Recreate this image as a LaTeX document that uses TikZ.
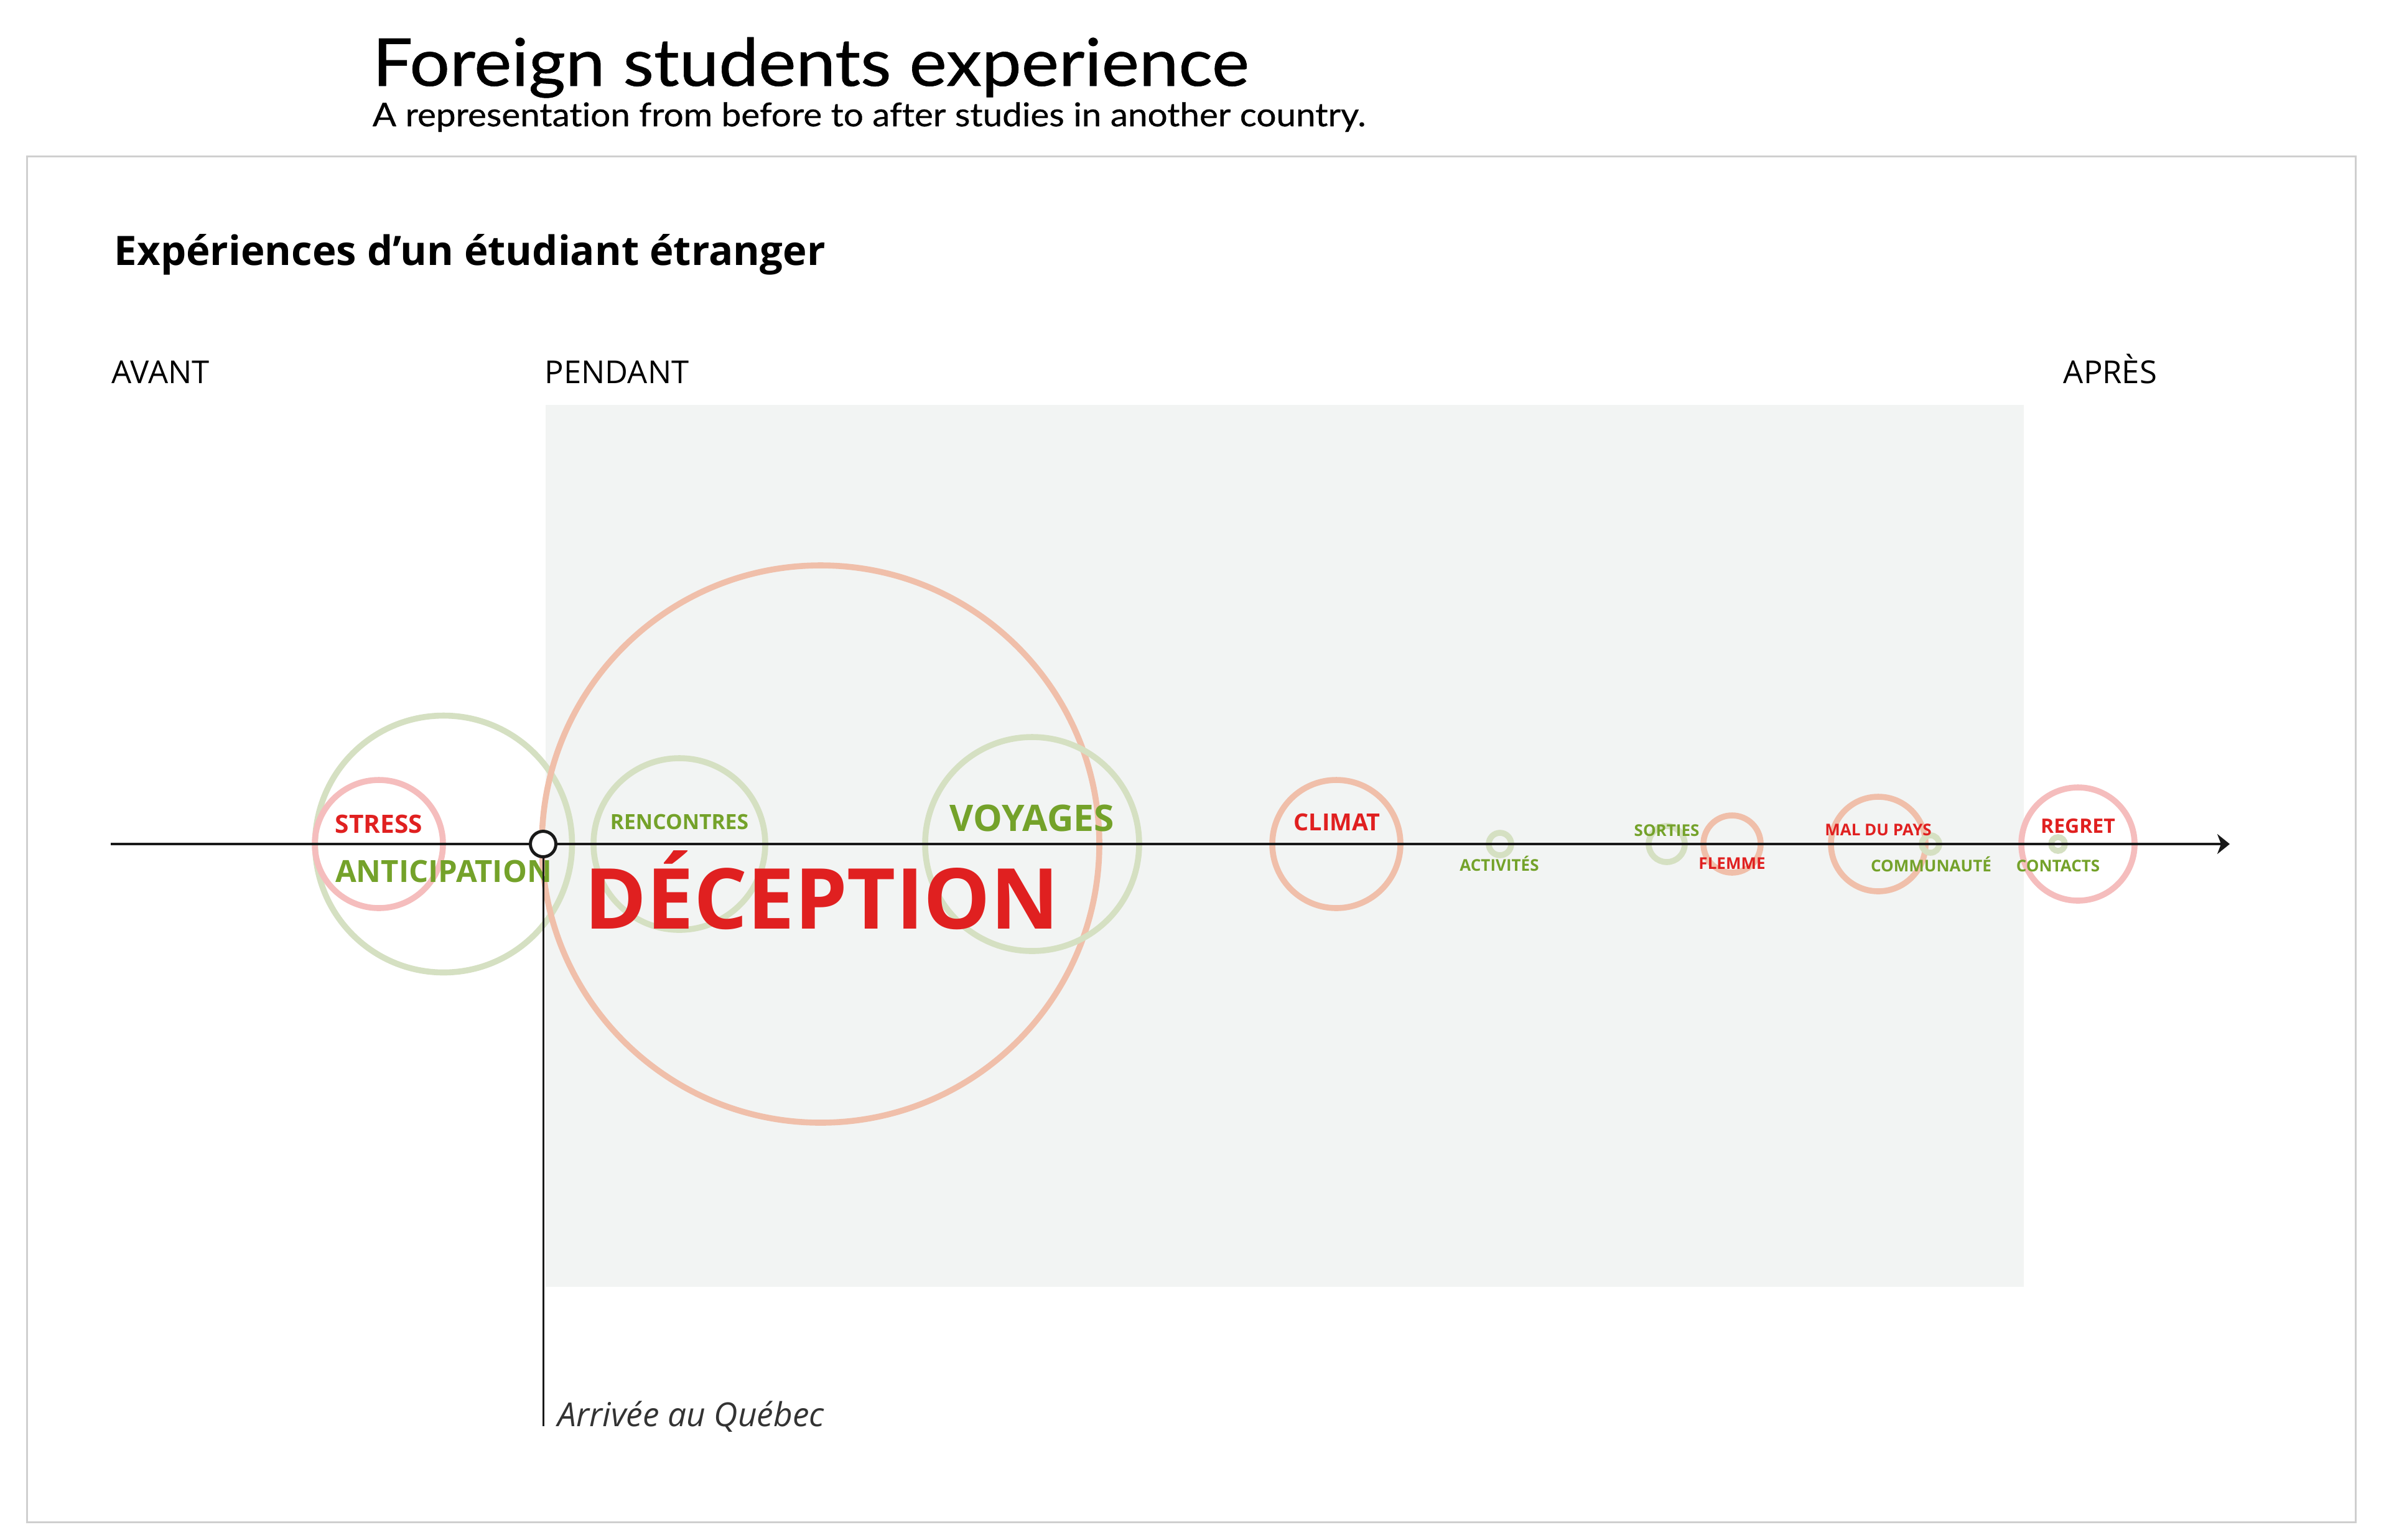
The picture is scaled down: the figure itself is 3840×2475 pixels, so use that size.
\documentclass[tikz,border=0pt]{standalone}
\usepackage{fontspec}
\setmainfont{Open Sans}
\newfontfamily\latofont[Ligatures=NoCommon, FakeStretch=1.075, FakeBold=0.6]{Lato}
\usetikzlibrary{arrows.meta}
\definecolor{palegreen}{HTML}{D5E0C2}
\definecolor{palepink}{HTML}{F5BDBD}
\definecolor{paleorange}{HTML}{F0BFAA}
\definecolor{txtred}{HTML}{E02020}
\definecolor{txtgreen}{HTML}{74A22A}
\definecolor{panelgray}{HTML}{F2F4F3}
\definecolor{framegray}{HTML}{CFCFCF}
\newcommand\setfs[1]{\fontsize{#1}{#1}\selectfont}
\begin{document}
\begin{tikzpicture}[x=0.25pt,y=-0.25pt,
  bub/.style={circle, draw=#1, line width=2.4pt, inner sep=0pt, outer sep=0pt},
  lbl/.style={anchor=base, inner sep=0pt, font=\bfseries},
  phase/.style={anchor=base west, inner sep=0pt, font=\setfs{12.7pt}},
  red/.style={text=txtred},
  grn/.style={text=txtgreen}]
\useasboundingbox[fill=white] (0,0) rectangle (3840,2475);
% frame and panel
\draw[framegray, line width=0.75pt] (43,251) rectangle (3786,2447);
\fill[panelgray] (877,651) rectangle (3253,2069);
% titles
\node[anchor=base west, inner sep=0pt, font=\latofont\setfs{26.5pt}] (title) at (598,138) {Foreign students experience};
\node[anchor=base west, inner sep=0pt, font=\latofont\setfs{13.15pt}] (subtitle) at (598,203) {A representation from before to after studies in another country.};
\node[anchor=base west, inner sep=0pt, font=\bfseries\setfs{16.3pt}] (heading) at (183,426) {Expériences d’un étudiant étranger};
\node[phase] (avant) at (179,616) {AVANT};
\node[phase] (pendant) at (875,616) {PENDANT};
\node[phase] (apres) at (3316,616) {APRÈS};
% bubbles
\node[bub=palegreen, minimum size=103.25pt] (cAnticipation) at (713,1357) {};
\node[bub=palepink, minimum size=51.5pt] (cStress) at (609,1357) {};
\node[bub=paleorange, minimum size=224pt] (cDeception) at (1319,1357) {};
\node[bub=palegreen, minimum size=69pt] (cRencontres) at (1092,1357) {};
\node[bub=palegreen, minimum size=86pt] (cVoyages) at (1659,1357) {};
\node[bub=paleorange, minimum size=51.5pt] (cClimat) at (2148,1357) {};
\node[bub=palegreen, minimum size=9pt] (cActivites) at (2411,1357) {};
\node[bub=palegreen, minimum size=14.5pt] (cSorties) at (2679,1357) {};
\node[bub=paleorange, minimum size=23pt] (cFlemme) at (2784,1357) {};
\node[bub=paleorange, minimum size=38pt] (cMal) at (3019,1357) {};
\node[bub=palegreen, minimum size=7pt] (cCommunaute) at (3103,1357) {};
\node[bub=palepink, minimum size=45.5pt] (cRegret) at (3340,1357) {};
\node[bub=palegreen, minimum size=5.5pt] (cContacts) at (3308,1357) {};
% axis
\coordinate (axStart) at (178,1357);
\coordinate (axEnd) at (3584,1357);
\coordinate (arrBottom) at (873,2293);
\draw[black!90, line width=1pt, -{Stealth[length=5pt, width=8pt, inset=1.5pt]}] (axStart) -- (axEnd);
% labels
\node[lbl, red, font=\bfseries\setfs{10.15pt}] (tStress) at (609,1339) {STRESS};
\node[lbl, grn, font=\bfseries\setfs{12.25pt}] (tAnticipation) at (713,1418) {ANTICIPATION};
\node[lbl, grn, font=\bfseries\setfs{8.4pt}] (tRencontres) at (1092,1333) {RENCONTRES};
\node[lbl, red, font=\bfseries\setfs{33.8pt}] (tDeception) at (1321,1493) {DÉCEPTION};
\node[lbl, grn, font=\bfseries\setfs{14.7pt}] (tVoyages) at (1659,1336) {VOYAGES};
\node[lbl, red, font=\bfseries\setfs{9.45pt}] (tClimat) at (2149,1335) {CLIMAT};
\node[lbl, grn, font=\bfseries\setfs{6.5pt}] (tActivites) at (2410,1400) {ACTIVITÉS};
\node[lbl, grn, font=\bfseries\setfs{6.5pt}] (tSorties) at (2679,1344) {SORTIES};
\node[lbl, red, font=\bfseries\setfs{6.5pt}] (tFlemme) at (2784,1397) {FLEMME};
\node[lbl, red, font=\bfseries\setfs{6.5pt}] (tMal) at (3019,1343) {MAL DU PAYS};
\node[lbl, grn, font=\bfseries\setfs{6.5pt}] (tCommunaute) at (3104,1401) {COMMUNAUTÉ};
\node[lbl, red, font=\bfseries\setfs{8pt}] (tRegret) at (3340,1339) {REGRET};
\node[lbl, grn, font=\bfseries\setfs{6.5pt}] (tContacts) at (3308,1401) {CONTACTS};
% arrival marker
\node[circle, draw=black!90, fill=white, line width=1.25pt, inner sep=0pt, minimum size=10.25pt] (arrival) at (873,1357) {};
\draw[black!90, line width=0.75pt] (arrival.south) -- (arrBottom);
\node[anchor=base west, inner sep=0pt, font=\itshape\setfs{13.3pt}, text=black!80] (arrivalText) at (896,2293) {Arrivée au Québec};
\end{tikzpicture}
\end{document}
